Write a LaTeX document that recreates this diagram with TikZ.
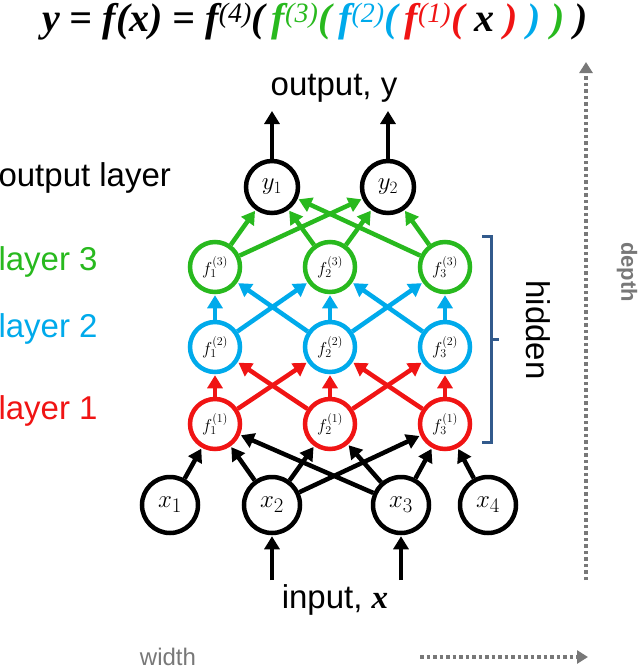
\documentclass[tikz,border=0pt]{standalone}
\usepackage{fontspec}
\setmainfont{Liberation Sans}
\newfontfamily\eqf{Liberation Serif}
\usetikzlibrary{arrows.meta}
\definecolor{cg}{RGB}{40,185,30}
\definecolor{cb}{RGB}{0,170,235}
\definecolor{cr}{RGB}{240,20,20}
\definecolor{brk}{RGB}{50,90,140}
\definecolor{gr}{RGB}{120,120,120}
\begin{document}
\begin{tikzpicture}[x=1pt,y=-1pt,
  nd/.style={circle,draw,line width=4.5pt,minimum size=50pt,inner sep=0pt,fill=white,text=black},
  fl/.style={font=\fontsize{17}{19}\selectfont},
  ar/.style={line width=4.5pt,-{Triangle[length=13pt,width=15pt]},shorten >=1pt},
  big/.style={font=\fontsize{33}{37}\selectfont},
  lbl/.style={big,anchor=west},
  gray arrow/.style={gr,line width=3.5pt,dash pattern=on 3.5pt off 3pt,-{Triangle[length=11pt,width=13pt]}}]
\useasboundingbox (0,0) rectangle (640,670);
% equation
\node (eq) at (315,22) {\eqf\bfseries\itshape\fontsize{40}{44}\selectfont
 y = f(x) = f\textsuperscript{\mdseries(4)}(\,\textcolor{cg}{f\textsuperscript{\mdseries(3)}(}\,\textcolor{cb}{f\textsuperscript{\mdseries(2)}(}\,\textcolor{cr}{f\textsuperscript{\mdseries(1)}(}\ x\ \textcolor{cr}{)}\ \textcolor{cb}{)}\ \textcolor{cg}{)}\ )};
% nodes
\foreach \i/\x in {1/215,2/330,3/445}{
  \node[nd,fl,draw=cr] (a\i) at (\x,424) {$f_{\i}^{(1)}$};
  \node[nd,fl,draw=cb] (b\i) at (\x,347) {$f_{\i}^{(2)}$};
  \node[nd,fl,draw=cg] (c\i) at (\x,267) {$f_{\i}^{(3)}$};
}
\node[nd,minimum size=52pt,font=\fontsize{26}{28}\selectfont] (y1) at (272,187) {$y_1$};
\node[nd,minimum size=52pt,font=\fontsize{26}{28}\selectfont] (y2) at (388,187) {$y_2$};
\foreach \i/\x in {1/170,2/272,3/401,4/488}
  \node[nd,minimum size=56pt,font=\fontsize{30}{32}\selectfont] (x\i) at (\x,505) {$x_{\i}$};
% inputs
\coordinate (i2) at (272,580); \coordinate (i3) at (401,580);
\draw[ar] (i2) -- (x2); \draw[ar] (i3) -- (x3);
\foreach \s/\t in {x1/a1,x2/a1,x2/a2,x2/a3,x3/a1,x3/a2,x3/a3,x4/a3}
  \draw[ar] (\s) -- (\t);
\foreach \s/\t in {1/1,1/2,2/1,2/2,2/3,3/2,3/3}{
  \draw[ar,cr] (a\s) -- (b\t);
  \draw[ar,cb] (b\s) -- (c\t);
}
\foreach \s/\t in {1/1,1/2,2/1,2/2,3/1,3/2}
  \draw[ar,cg] (c\s) -- (y\t);
\coordinate (o1) at (272,110); \coordinate (o2) at (388,110);
\draw[ar] (y1) -- (o1); \draw[ar] (y2) -- (o2);
% texts
\node[big] (out) at (334,88) {output, y};
\node[big] (inp) at (335,600) {input, {\eqf\bfseries\itshape x}};
\node[lbl] (lo) at (-5,178) {output layer};
\node[lbl,cg] (l3) at (-5,262) {layer 3};
\node[lbl,cb] (l2) at (-5,329) {layer 2};
\node[lbl,cr] (l1) at (-5,411) {layer 1};
% bracket
\draw[brk,line width=3pt] (482,236) -- (491,236) -- (491,442) -- (482,442);
\draw[brk,line width=3pt] (491,339) -- (499,339);
\node[big,rotate=-90] (hid) at (538,330) {hidden};
% depth / width
\coordinate (d0) at (586,580); \coordinate (d1) at (586,62);
\draw[gray arrow] (d0) -- (d1);
\node[gr,font=\fontsize{22}{26}\selectfont\bfseries,rotate=-90] (dep) at (627,272) {depth};
\coordinate (w0) at (420,657); \coordinate (w1) at (588,657);
\draw[gray arrow] (w0) -- (w1);
\node[gr,font=\fontsize{24}{28}\selectfont] (wid) at (168,657) {width};
\end{tikzpicture}
\end{document}
